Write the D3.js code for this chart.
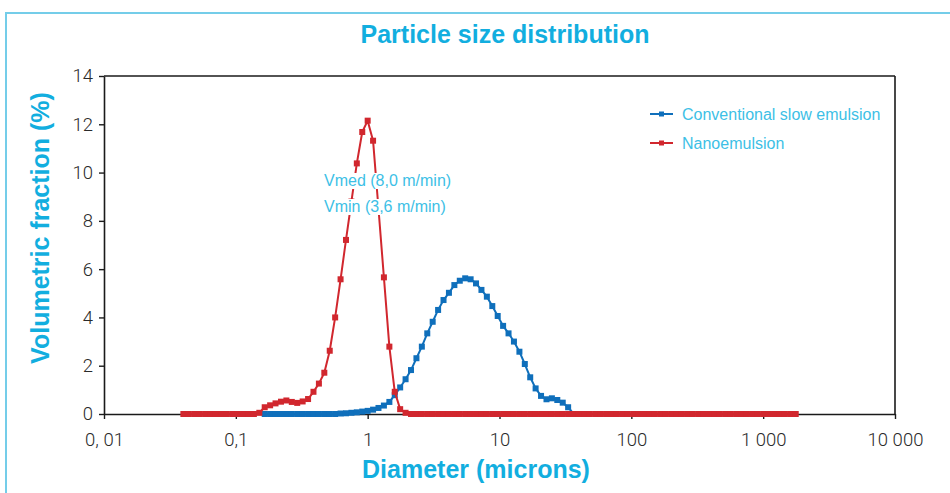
<!DOCTYPE html>
<html>
<head>
<meta charset="utf-8">
<script src="https://cdn.jsdelivr.net/npm/d3@7/dist/d3.min.js"></script>
<style>
  html, body { margin: 0; padding: 0; background: #ffffff; }
  svg { display: block; }
</style>
</head>
<body>
<svg id="chart" width="950" height="493"></svg>
<script>
// ---------- DATA ----------
const diameters = [
  0.0400, 0.0440, 0.0484, 0.0532, 0.0585, 0.0643, 0.0707, 0.0777, 0.0854, 0.0939,
  0.1032, 0.1134, 0.1247, 0.1371, 0.1507, 0.1656, 0.182, 0.200, 0.220, 0.2418,
  0.2658, 0.2922, 0.3212, 0.3531, 0.3881, 0.4267, 0.469, 0.5156, 0.5667, 0.623,
  0.6848, 0.7528, 0.8275, 0.9097, 1.000, 1.099, 1.208, 1.328, 1.461, 1.605,
  1.764, 1.939, 2.132, 2.344, 2.576, 2.832, 3.113, 3.422, 3.762, 4.135,
  4.546, 4.997, 5.493, 6.039, 6.637, 7.296, 8.020, 8.817, 9.692, 10.65,
  11.71, 12.87, 14.16, 15.56, 17.10, 18.79, 20.66, 22.72, 24.97, 27.44,
  30.17, 33.16, 36.46, 40.08, 44.06, 48.43, 53.24, 58.51, 64.33, 70.71,
  77.73, 85.45, 93.93, 103.3, 113.5, 124.8, 137.2, 150.8, 165.7, 182.2,
  200.2, 220.2, 242.0, 266.0, 292.4, 321.4, 353.3, 388.4, 427.0, 469.3,
  515.9, 567.1, 623.5, 685.2, 753.3, 828.1, 910.4, 1001, 1100, 1209,
  1329, 1461, 1606, 1766
];

const conventional = [
  null, null, null, null, null, null, null, null, null, null,
  null, null, null, null, null, 0, 0, 0, 0, 0,
  0, 0, 0, 0, 0, 0, 0, 0, 0, 0.02,
  0.03, 0.05, 0.07, 0.10, 0.13, 0.18, 0.25, 0.35, 0.50, 0.78,
  1.10, 1.44, 1.82, 2.31, 2.79, 3.34, 3.82, 4.31, 4.72, 5.02,
  5.34, 5.52, 5.62, 5.58, 5.41, 5.14, 4.86, 4.47, 4.06, 3.65,
  3.34, 3.00, 2.58, 2.07, 1.52, 1.06, 0.75, 0.61, 0.65, 0.58,
  0.47, 0.28, 0, null, null, null, null, null, null, null,
  null, null, null, null, null, null, null, null, null, null,
  null, null, null, null, null, null, null, null, null, null,
  null, null, null, null, null, null, null, null, null, null,
  null, null, null, null
];

const nanoemulsion = [
  0, 0, 0, 0, 0, 0, 0, 0, 0, 0,
  0, 0, 0, 0, 0.05, 0.28, 0.36, 0.44, 0.51, 0.56,
  0.50, 0.46, 0.52, 0.62, 0.92, 1.26, 1.71, 2.62, 4.00, 5.58,
  7.21, 8.80, 10.38, 11.68, 12.15, 11.32, 8.50, 5.66, 2.79, 0.92,
  0.20, 0.05, 0, 0, 0, 0, 0, 0, 0, 0,
  0, 0, 0, 0, 0, 0, 0, 0, 0, 0,
  0, 0, 0, 0, 0, 0, 0, 0, 0, 0,
  0, 0, 0, 0, 0, 0, 0, 0, 0, 0,
  0, 0, 0, 0, 0, 0, 0, 0, 0, 0,
  0, 0, 0, 0, 0, 0, 0, 0, 0, 0,
  0, 0, 0, 0, 0, 0, 0, 0, 0, 0,
  0, 0, 0, 0
];

const seriesNames = ["Conventional slow emulsion", "Nanoemulsion"];
const yTickValues = [0, 2, 4, 6, 8, 10, 12, 14];
const xTickValues = [0.01, 0.1, 1, 10, 100, 1000, 10000];
const xTickLabels = ["0, 01", "0,1", "1", "10", "100", "1 000", "10 000"];
const annotationLines = ["Vmed (8,0 m/min)", "Vmin (3,6 m/min)"];
const titleText = "Particle size distribution";
const xTitle = "Diameter (microns)";
const yTitle = "Volumetric fraction (%)";

// ---------- STYLE / LAYOUT ----------
const W = 950, H = 493;
const plot = { left: 104, right: 895, top: 76, bottom: 414 };
const colors = { blue: "#0f6fbb", red: "#d1272e", cyan: "#12aedf", cyanLight: "#3dbfe6", frame: "#74cde9", axis: "#1a1a1a" };
const FONT = "'Liberation Sans', Arial, Helvetica, sans-serif";
const LIGHT = "Roboto, 'Liberation Sans', Arial, sans-serif";

const svg = d3.select("#chart");

const x = d3.scaleLog().domain([0.01, 10000]).range([plot.left, plot.right]);
const y = d3.scaleLinear().domain([0, 14]).range([plot.bottom, plot.top]);

// outer frame (top + left light blue lines)
svg.append("line").attr("x1", 6).attr("x2", W).attr("y1", 13).attr("y2", 13)
  .attr("stroke", colors.frame).attr("stroke-width", 2);
svg.append("line").attr("x1", 6).attr("x2", 6).attr("y1", 12).attr("y2", H)
  .attr("stroke", colors.frame).attr("stroke-width", 2);

// title
svg.append("text").attr("x", 505).attr("y", 43).attr("text-anchor", "middle")
  .attr("font-family", FONT).attr("font-weight", "bold").attr("font-size", 25)
  .attr("fill", colors.cyan).text(titleText);

// plot box top/right
svg.append("line").attr("x1", plot.left).attr("x2", plot.right).attr("y1", plot.top).attr("y2", plot.top)
  .attr("stroke", colors.axis).attr("stroke-width", 1.6);
svg.append("line").attr("x1", plot.right).attr("x2", plot.right).attr("y1", plot.top).attr("y2", plot.bottom)
  .attr("stroke", colors.axis).attr("stroke-width", 1.6);

// axes
const yAxis = d3.axisLeft(y).tickValues(yTickValues).tickSize(5).tickSizeOuter(0).tickPadding(6)
  .tickFormat(d3.format("d"));
const gy = svg.append("g").attr("transform", `translate(${plot.left},0)`).call(yAxis);

const xAxis = d3.axisBottom(x).tickValues(xTickValues).tickSize(5).tickSizeOuter(0).tickPadding(14)
  .tickFormat((d, i) => xTickLabels[i]);
const gx = svg.append("g").attr("transform", `translate(0,${plot.bottom})`).call(xAxis);

[gx, gy].forEach(g => {
  g.select(".domain").attr("stroke", colors.axis).attr("stroke-width", 1.6);
  g.selectAll(".tick line").attr("stroke", colors.axis).attr("stroke-width", 1.4);
  g.selectAll(".tick text").attr("font-family", LIGHT).attr("font-weight", 300)
    .attr("font-size", 18.5).attr("fill", "#2a2a2a");
});

// axis titles
svg.append("text").attr("x", 476).attr("y", 478).attr("text-anchor", "middle")
  .attr("font-family", FONT).attr("font-weight", "bold").attr("font-size", 25)
  .attr("fill", colors.cyan).text(xTitle);
svg.append("text").attr("transform", `translate(49,228) rotate(-90)`).attr("text-anchor", "middle")
  .attr("font-family", FONT).attr("font-weight", "bold").attr("font-size", 25)
  .attr("fill", colors.cyan).text(yTitle);

// series
const series = [
  { name: seriesNames[0], values: conventional, color: colors.blue },
  { name: seriesNames[1], values: nanoemulsion, color: colors.red }
];

const line = d3.line()
  .defined(d => d.v !== null)
  .x(d => x(d.d)).y(d => y(d.v));

const ms = 6;
series.forEach(s => {
  const pts = diameters.map((d, i) => ({ d, v: s.values[i] }));
  const g = svg.append("g");
  g.append("path").datum(pts).attr("d", line)
    .attr("fill", "none").attr("stroke", s.color).attr("stroke-width", 2)
    .attr("stroke-linejoin", "round");
  g.selectAll("rect").data(pts.filter(p => p.v !== null)).join("rect")
    .attr("x", p => x(p.d) - ms / 2).attr("y", p => y(p.v) - ms / 2)
    .attr("width", ms).attr("height", ms).attr("fill", s.color);
});

// annotation with white background
const annBaselines = [186, 212];
annotationLines.forEach((t, i) => {
  const g = svg.append("g");
  const txt = g.append("text").attr("x", 324).attr("y", annBaselines[i])
    .attr("font-family", FONT).attr("font-size", 16).attr("fill", colors.cyanLight).text(t);
  const bb = txt.node().getBBox();
  g.insert("rect", "text").attr("x", bb.x - 1).attr("y", bb.y + 1)
    .attr("width", bb.width + 2).attr("height", bb.height - 1).attr("fill", "#fff");
});

// legend
const legendY = [114, 143];
series.forEach((s, i) => {
  const g = svg.append("g").attr("transform", `translate(650,${legendY[i]})`);
  g.append("line").attr("x1", 0).attr("x2", 23).attr("y1", 0).attr("y2", 0)
    .attr("stroke", s.color).attr("stroke-width", 2);
  g.append("rect").attr("x", 9).attr("y", -2.5).attr("width", 5).attr("height", 5).attr("fill", s.color);
  g.append("text").attr("x", 32).attr("y", 0).attr("dy", "0.35em")
    .attr("font-family", FONT).attr("font-size", 16).attr("fill", colors.cyanLight).text(s.name);
});
</script>
</body>
</html>
